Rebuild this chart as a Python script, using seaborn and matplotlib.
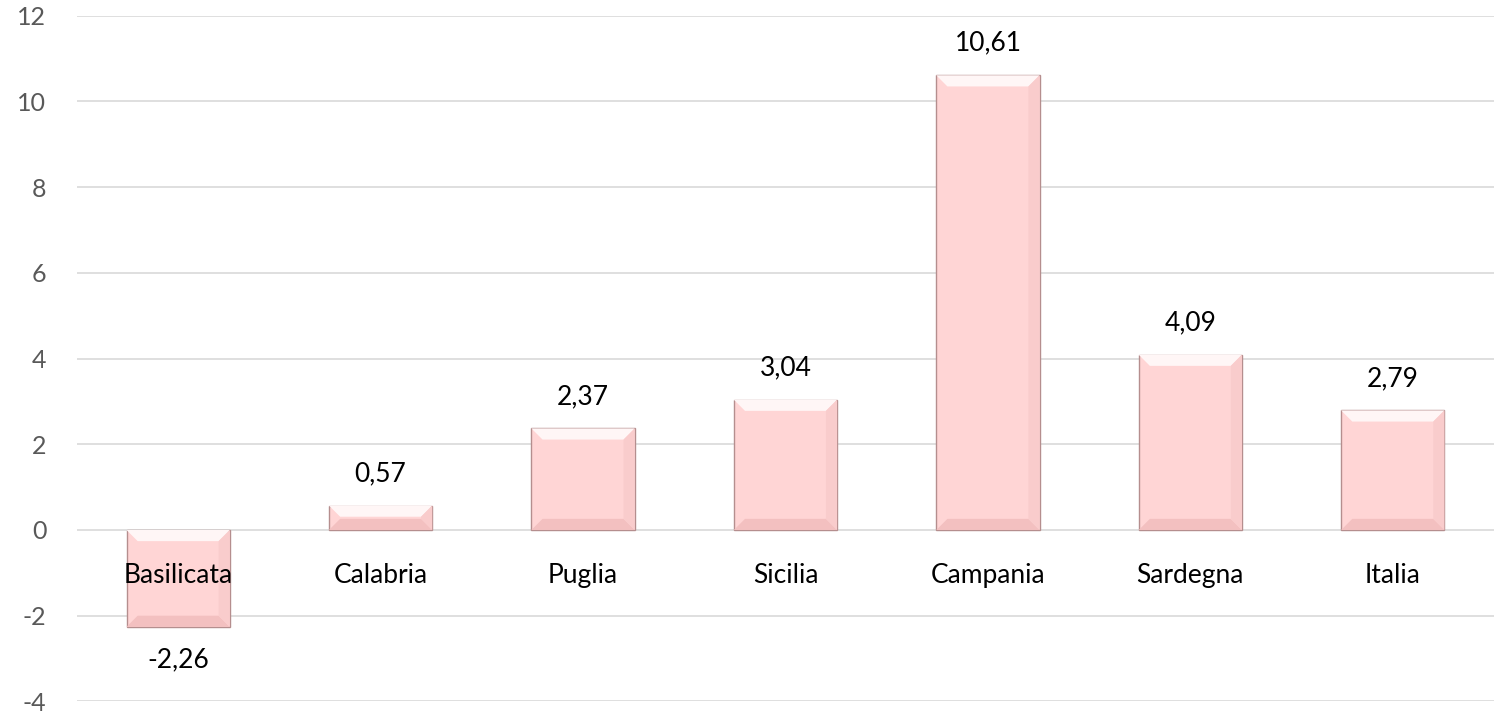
import matplotlib

matplotlib.use("Agg")
import matplotlib.pyplot as plt
import seaborn as sns
from matplotlib.patches import Polygon

regions = ["Basilicata", "Calabria", "Puglia", "Sicilia", "Campania", "Sardegna", "Italia"]
values = [-2.26, 0.57, 2.37, 3.04, 10.61, 4.09, 2.79]
y_ticks = [-4, -2, 0, 2, 4, 6, 8, 10, 12]

sns.set_theme(style="white")
plt.rcParams["font.family"] = ["Lato", "DejaVu Sans"]

fig = plt.figure(figsize=(14.94, 7.15), dpi=100)
ax = fig.add_axes([0.0515, 0.019, 0.9485, 0.959])

sns.barplot(x=regions, y=values, color="#ffd5d5", saturation=1, width=0.51,
            edgecolor="#b58e8e", linewidth=1.0, ax=ax, zorder=3)

ax.set_ylim(-4, 12)
ax.set_xlim(-0.5, len(regions) - 0.5)
ax.set_yticks(y_ticks)
ax.set_yticklabels([str(t) for t in y_ticks], fontsize=18, color="#595959")
ax.tick_params(axis="y", length=0, pad=22)
ax.set_xticks([])
ax.set_xlabel("")
ax.set_ylabel("")
for spine in ax.spines.values():
    spine.set_visible(False)
ax.yaxis.grid(True, color="#d9d9d9", linewidth=1.2, zorder=0)
ax.set_axisbelow(True)

# bevel shading on each bar, taken from the bar geometry
dx = 0.055
dy = 0.26
for patch, val in zip(ax.patches, values):
    x0 = patch.get_x()
    w = patch.get_width()
    top = max(val, 0)
    bot = min(val, 0)
    hi = Polygon([(x0, top), (x0 + w, top), (x0 + w - dx, top - dy), (x0 + dx, top - dy)],
                 closed=True, facecolor="#fff6f6", edgecolor="none", zorder=4)
    lo = Polygon([(x0, bot), (x0 + w, bot), (x0 + w - dx, bot + dy), (x0 + dx, bot + dy)],
                 closed=True, facecolor="#f3c0c0", edgecolor="none", zorder=4)
    rs = Polygon([(x0 + w, top), (x0 + w, bot), (x0 + w - dx, bot + dy), (x0 + w - dx, top - dy)],
                 closed=True, facecolor="#f9cccc", edgecolor="none", zorder=4)
    ax.add_patch(hi)
    ax.add_patch(lo)
    ax.add_patch(rs)

for i, val in enumerate(values):
    label = f"{val:.2f}".replace(".", ",")
    off = 32 if val >= 0 else -33
    ax.annotate(label, xy=(i, val), xytext=(0, off), textcoords="offset pixels",
                ha="center", va="center", fontsize=19, color="#000000", zorder=5)
    ax.annotate(regions[i], xy=(i, 0), xytext=(0, -46), textcoords="offset pixels",
                ha="center", va="center", fontsize=19, color="#000000", zorder=5)

fig.savefig("out.png", dpi=100)
plt.close(fig)
